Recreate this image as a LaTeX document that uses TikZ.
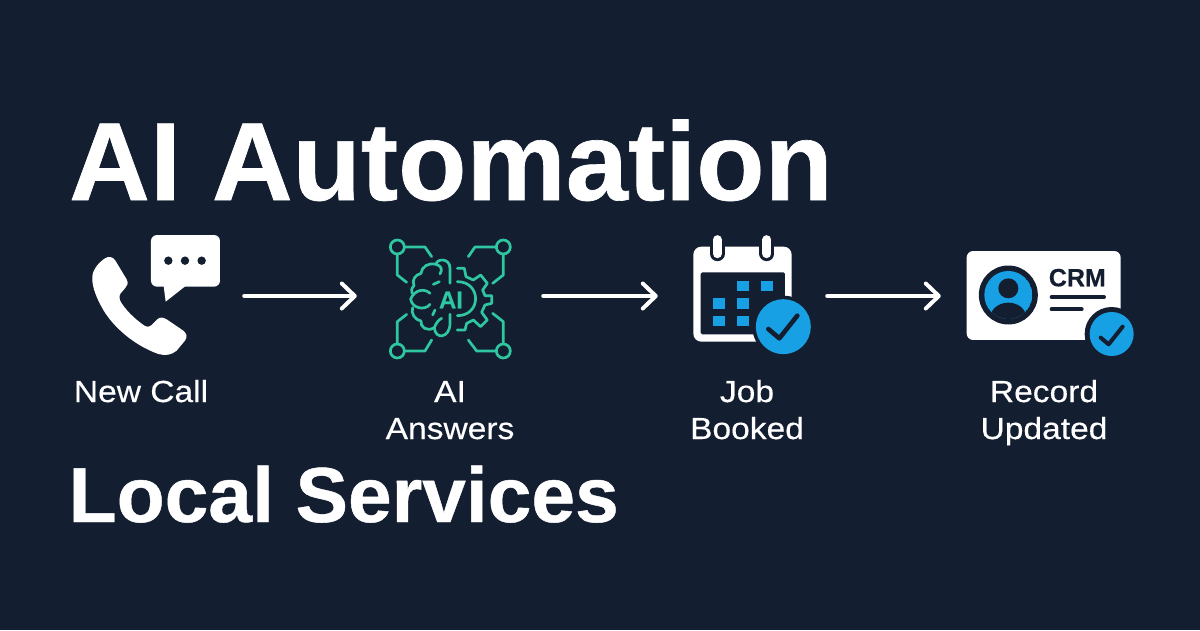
\documentclass[tikz,border=0pt]{standalone}
\usepackage{fontspec}
\setmainfont{Liberation Sans}
\newfontfamily\titlefont[FakeBold=0.6,FakeStretch=1.007]{Liberation Sans Bold}
\newfontfamily\labelfont[FakeStretch=1.1,FakeBold=0.4]{Liberation Sans}
\newfontfamily\iconfont[FakeBold=0.4]{Liberation Sans Bold}
\usetikzlibrary{arrows.meta,calc}
\definecolor{bg}{HTML}{141E31}
\definecolor{teal}{HTML}{2FC7A1}
\definecolor{sky}{HTML}{17A0E3}
\tikzset{
  x=1pt,y=-1pt,
  title/.style={anchor=base west,inner sep=0,text=white},
  caption/.style={align=center,text=white,font=\labelfont\fontsize{30.5}{37}\selectfont,inner sep=0,anchor=base},
  slot/.style={inner sep=0,minimum height=100pt},
  flow/.style={draw=white,line width=4pt,line cap=round,line join=round,-{Straight Barb[length=13pt,width=25pt,line width=4pt,round]}},
  tl/.style={draw=teal,line width=2.7pt,line cap=round,line join=round},
  darkline/.style={draw=bg,line cap=round,line join=round},
}
\begin{document}
\begin{tikzpicture}
\useasboundingbox (0,0) rectangle (1200,630);
\fill[bg] (0,0) rectangle (1200,630);
\node[title,font=\titlefont\fontsize{111}{111}\selectfont] (t1) at (69,200) {AI Automation};
\node[title,font=\titlefont\fontsize{78}{79}\selectfont] (t2) at (68.5,522) {Local Services};

\node[slot,minimum width=188pt] (call) at (150,296) {};
\node[slot,minimum width=186pt] (ai) at (450,296) {};
\node[slot,minimum width=169pt] (job) at (742.5,296) {};
\node[slot,minimum width=218pt] (crm) at (1050,296) {};
\draw[flow] (call.east) -- (ai.west);
\draw[flow] (ai.east) -- (job.west);
\draw[flow] (job.east) -- (crm.west);

% phone and bubble
\begin{scope}[shift={(70,220)},x=0.3333pt,y=-0.3333pt]
\fill[white,rounded corners=6pt] (243,45) rectangle (450,200);
\fill[white,line join=round] (280,190) -- (287,245) -- (348,197) -- cycle;
\foreach \px in {295,345,395} \fill[bg] (\px,122) circle[radius=4.2pt];
\fill[white] (105,115) .. controls (115,108) and (128,110) .. (135,120)
 -- (170,178) .. controls (176,190) and (172,198) .. (165,205)
 -- (152,220) .. controls (146,228) and (148,240) .. (155,250)
 .. controls (175,280) and (205,305) .. (225,318)
 .. controls (235,323) and (243,318) .. (250,310)
 -- (262,298) .. controls (270,290) and (280,292) .. (290,298)
 -- (340,332) .. controls (352,342) and (352,352) .. (345,362)
 -- (320,392) .. controls (305,405) and (285,408) .. (265,402)
 .. controls (190,375) and (130,320) .. (100,270)
 .. controls (80,235) and (65,200) .. (67,170)
 .. controls (68,150) and (85,128) .. (105,115) -- cycle;
\end{scope}

% AI icon
\begin{scope}[shift={(370,225)},x=0.3333pt,y=-0.3333pt]
\foreach \cx/\cy in {82/66,400/66,82/378,400/378} \draw[tl] (\cx,\cy) circle[radius=7pt];
\draw[tl] (103,66) -- (165,66) -- (185,95);
\draw[tl] (82,87) -- (82,150) -- (110,172);
\draw[tl] (379,66) -- (315,66) -- (295,95);
\draw[tl] (400,87) -- (400,150) -- (368,175);
\draw[tl] (103,378) -- (165,378) -- (185,345);
\draw[tl] (82,357) -- (82,290) -- (110,268);
\draw[tl] (379,378) -- (320,378) -- (295,345);
\draw[tl] (400,357) -- (400,290) -- (368,265);
% brain
\draw[tl] (210,147) .. controls (218,135) and (215,122) .. (198,118)
  .. controls (200,100) and (240,98) .. (240,130) -- (240,175);
\draw[tl] (240,268) -- (240,295)
  .. controls (240,340) and (195,345) .. (193,308)
  .. controls (198,295) and (205,285) .. (215,280);
\draw[tl] (198,118) .. controls (175,112) and (155,125) .. (153,145)
  .. controls (135,150) and (125,165) .. (132,182)
  .. controls (124,190) and (124,196) .. (126,205);
\draw[tl] (180,205) .. controls (165,190) and (135,192) .. (122,222)
  .. controls (125,250) and (165,258) .. (180,238);
\draw[tl] (128,248) .. controls (122,265) and (135,285) .. (153,288)
  .. controls (150,305) and (170,322) .. (193,308);
\draw[tl] (190,178) -- (208,170);
\draw[tl] (188,270) -- (195,255);
% gear
\draw[tl] (262,130) -- (283,130) -- (288,155) -- (310,165) -- (332,150) -- (352,175) -- (338,195) -- (345,212) -- (365,212) -- (365,235) -- (345,240) -- (335,262) -- (352,285) -- (332,305) -- (310,285) -- (290,295) -- (285,315) -- (262,315);
\draw[tl] (262,170) .. controls (335,170) and (335,272) .. (262,272);
\node[text=teal,inner sep=0,font=\iconfont\fontsize{24}{24}\selectfont] (aitxt) at (243,225) {AI};
\end{scope}

% calendar
\begin{scope}[shift={(680,225)},x=0.3333pt,y=-0.3333pt]
\fill[white,rounded corners=8pt] (40,65) rectangle (335,350);
\fill[bg,rounded corners=1.5pt] (62,142) rectangle (315,328);
\foreach \px in {112,261} {
  \draw[bg,line width=15pt,line cap=round] (\px,44) -- (\px,86);
  \draw[white,line width=9pt,line cap=round] (\px,44) -- (\px,86);
}
\foreach \px/\py in {170/168,242/168,98/220,170/220,98/272,170/272}
  \fill[sky] (\px,\py) rectangle ++(37,31);
\fill[bg] (310,305) circle[radius=31pt];
\fill[sky] (310,305) circle[radius=27.5pt];
\draw[darkline,line width=4.6pt] (265,312) -- (298,340) -- (352,272);
\end{scope}

% CRM card
\begin{scope}[shift={(950,235)},x=0.3333pt,y=-0.3333pt]
\fill[white,rounded corners=6.5pt] (50,48) rectangle (512,315);
\fill[bg] (175,180) circle[radius=29.5pt];
\begin{scope}
\clip (175,180) circle[radius=24pt];
\fill[sky] (175,180) circle[radius=24pt];
\fill[bg] (175,160) circle[radius=10pt];
\fill[bg] (175,248) ellipse[x radius=18pt,y radius=15pt];
\end{scope}
\node[text=bg,inner sep=0,font=\iconfont\fontsize{25}{25}\selectfont] (crmtxt) at (382,128) {CRM};
\draw[darkline,line width=4pt] (305,186) -- (462,186);
\draw[darkline,line width=4pt] (305,223) -- (395,223);
\fill[bg] (485,297) circle[radius=27pt];
\fill[sky] (485,297) circle[radius=22pt];
\draw[darkline,line width=4pt] (452,308) -- (476,328) -- (518,275);
\end{scope}

\node[caption] (c1) at (141,402) {New Call};
\node[caption] (c2) at (450,439) {AI\\Answers};
\node[caption] (c3) at (747,439) {Job\\Booked};
\node[caption] (c4) at (1044,439) {Record\\Updated};
\end{tikzpicture}
\end{document}
